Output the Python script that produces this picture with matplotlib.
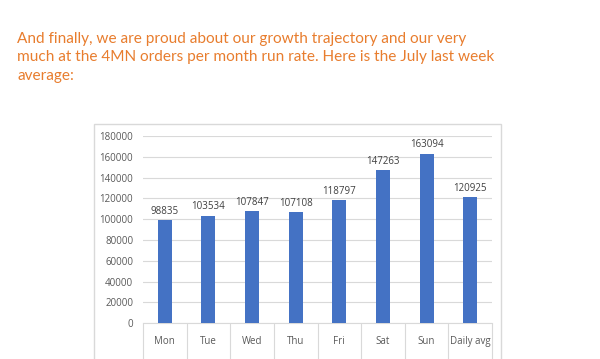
import matplotlib.pyplot as plt
from matplotlib.patches import Rectangle

# data
days = ["Mon", "Tue", "Wed", "Thu", "Fri", "Sat", "Sun", "Daily avg"]
orders = [98835, 103534, 107847, 107108, 118797, 147263, 163094, 120925]
yticks = list(range(0, 180001, 20000))

title = ("And finally, we are proud about our growth trajectory and our very\n"
         "much at the 4MN orders per month run rate. Here is the July last week\n"
         "average:")

plt.rcParams['font.family'] = ['Open Sans', 'DejaVu Sans']
grid_c = "#D9D9D9"
txt_c = "#595959"

fig = plt.figure(figsize=(6, 3.59), dpi=100)
fig.patch.set_facecolor("white")

# heading text
fig.text(17 / 600, 1 - 32 / 359, title, color="#E87D2E", fontsize=11.1,
         family=['Lato', 'DejaVu Sans'], va="top", ha="left", linespacing=1.4)

# chart frame
fig.patches.append(Rectangle((94 / 600, -0.1), 407 / 600, 0.1 + (359 - 124) / 359,
                             transform=fig.transFigure, fill=False,
                             edgecolor=grid_c, linewidth=1))

ax = fig.add_axes([143 / 600, 35.7 / 359, 349 / 600, 187.3 / 359])
x = list(range(len(days)))
bars = ax.bar(x, orders, width=0.32, color="#4472C4", zorder=3)
for xi, v in zip(x, orders):
    ax.text(xi, v + 3000, str(v), ha="center", va="bottom", fontsize=7, color="#404040")

ax.set_xlim(-0.5, len(days) - 0.5)
ax.set_ylim(0, 180000)
ax.set_yticks(yticks)
ax.set_yticklabels([str(t) for t in yticks], fontsize=7, color=txt_c)
ax.tick_params(axis="y", length=0, pad=7)
ax.grid(axis="y", color=grid_c, linewidth=0.8, zorder=0)

# category boxes below axis
ax.set_xticks([i - 0.5 for i in range(len(days) + 1)])
ax.set_xticklabels([])
ax.tick_params(axis="x", which="major", length=30, color=grid_c, width=0.8)
ax.set_xticks(x, minor=True)
ax.set_xticklabels(days, minor=True, fontsize=7, color=txt_c)
ax.tick_params(axis="x", which="minor", length=0, pad=9)

for s in ["top", "right", "left"]:
    ax.spines[s].set_visible(False)
ax.spines["bottom"].set_color(grid_c)
ax.spines["bottom"].set_linewidth(0.8)

plt.savefig("out.png", dpi=100)
